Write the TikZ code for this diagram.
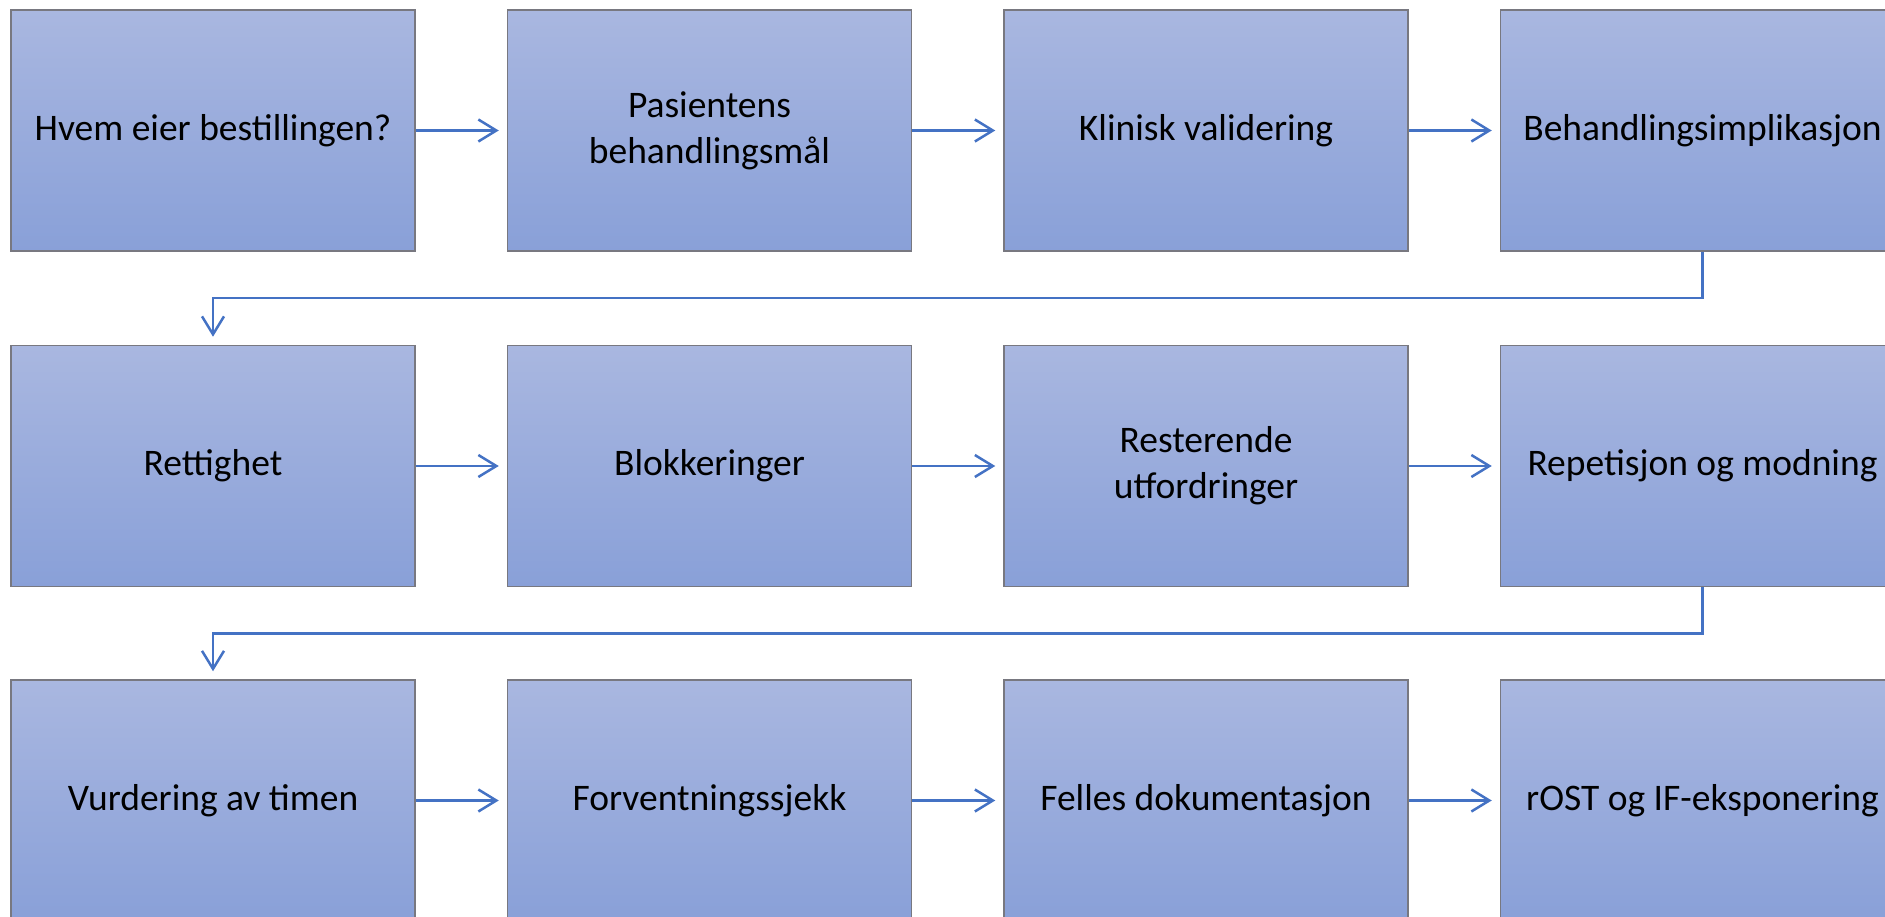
\documentclass[tikz,border=0pt]{standalone}
\usepackage{fontspec}
\setmainfont{Carlito}
\usetikzlibrary{arrows.meta}
\definecolor{boxtop}{RGB}{169,183,224}
\definecolor{boxbot}{RGB}{137,160,216}
\definecolor{boxline}{RGB}{120,120,128}
\definecolor{arrowblue}{RGB}{68,114,196}
\begin{document}
\begin{tikzpicture}[x=1pt,y=-1pt,
  stepbox/.style={rectangle, draw=boxline, line width=1.5pt, top color=boxtop, bottom color=boxbot,
    minimum width=404pt, minimum height=241pt, inner sep=0pt, align=center,
    font=\fontsize{37.5}{46}\selectfont, text=black},
  flow/.style={draw=arrowblue, line width=2.5pt, -{Straight Barb[length=18pt,width=22pt,line width=2.5pt]}, shorten >=8pt}]
\useasboundingbox (0,0) rectangle (1885,917);
\clip (0,0) rectangle (1885,917);
\node[stepbox] (a1) at (213,130.5) {Hvem eier bestillingen?};
\node[stepbox] (a2) at (709.5,130.5) {Pasientens\\behandlingsmål};
\node[stepbox] (a3) at (1206,130.5) {Klinisk validering};
\node[stepbox] (a4) at (1702.5,130.5) {Behandlingsimplikasjon};
\node[stepbox] (b1) at (213,466) {Rettighet};
\node[stepbox] (b2) at (709.5,466) {Blokkeringer};
\node[stepbox] (b3) at (1206,466) {Resterende\\utfordringer};
\node[stepbox] (b4) at (1702.5,466) {Repetisjon og modning};
\node[stepbox] (c1) at (213,800.5) {Vurdering av timen};
\node[stepbox] (c2) at (709.5,800.5) {Forventningssjekk};
\node[stepbox] (c3) at (1206,800.5) {Felles dokumentasjon};
\node[stepbox] (c4) at (1702.5,800.5) {rOST og IF-eksponering};
\draw[flow] (a1) -- (a2);
\draw[flow] (a2) -- (a3);
\draw[flow] (a3) -- (a4);
\draw[flow] (b1) -- (b2);
\draw[flow] (b2) -- (b3);
\draw[flow] (b3) -- (b4);
\draw[flow] (c1) -- (c2);
\draw[flow] (c2) -- (c3);
\draw[flow] (c3) -- (c4);
\draw[flow] (a4.south) -- (a4.south |- 0,298) -| (b1.north);
\draw[flow] (b4.south) -- (b4.south |- 0,633.5) -| (c1.north);
\end{tikzpicture}
\end{document}
